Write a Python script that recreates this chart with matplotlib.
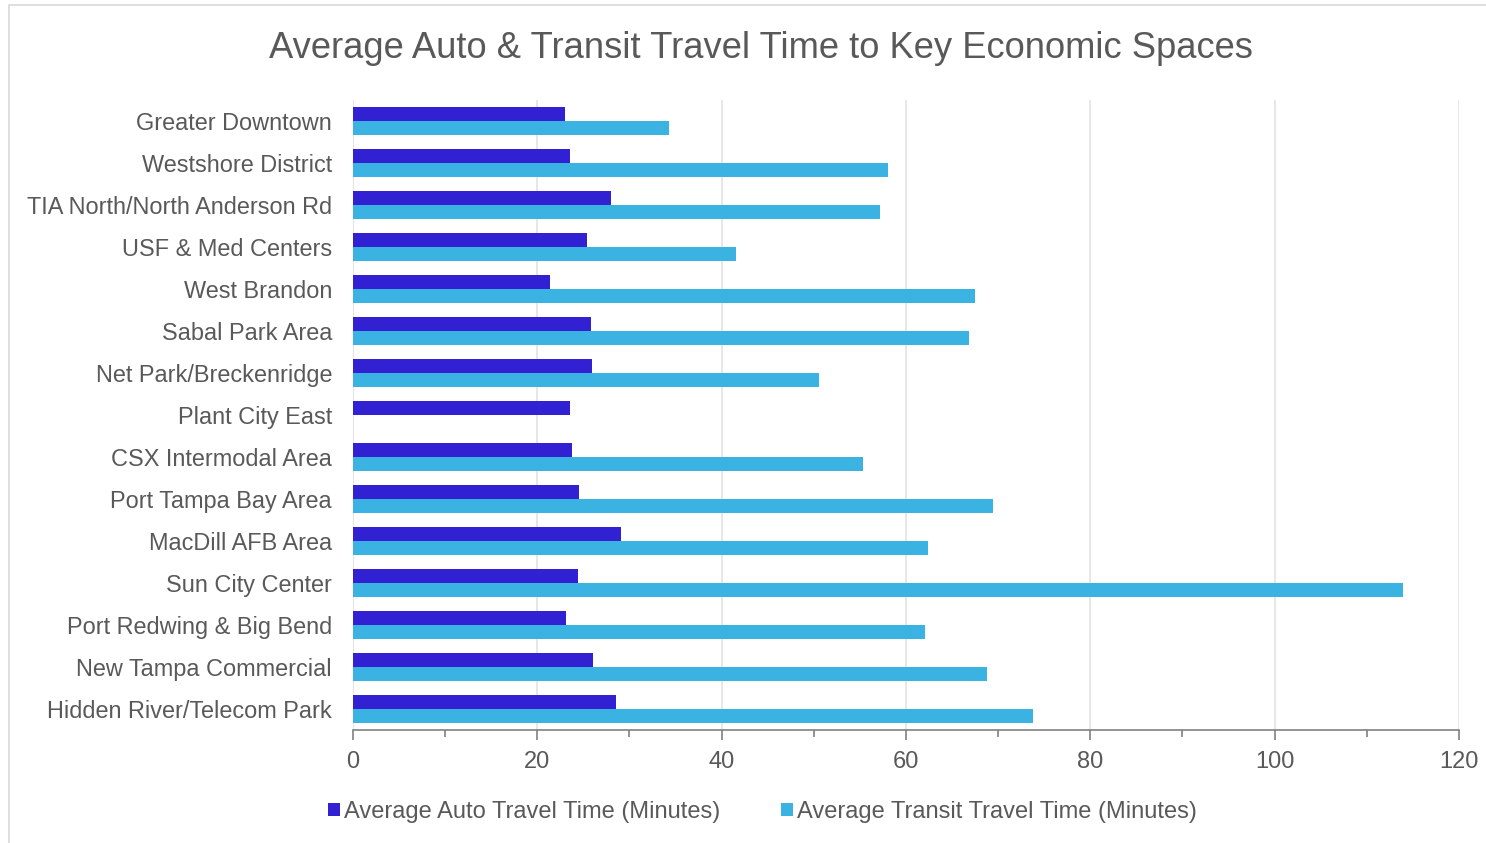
import matplotlib
matplotlib.use("Agg")
import matplotlib.pyplot as plt
from matplotlib.patches import Rectangle
from matplotlib.ticker import MultipleLocator
import numpy as np

plt.rcParams['font.family'] = ['Liberation Sans', 'DejaVu Sans']

places = ["Greater Downtown", "Westshore District", "TIA North/North Anderson Rd",
          "USF & Med Centers", "West Brandon", "Sabal Park Area",
          "Net Park/Breckenridge", "Plant City East", "CSX Intermodal Area",
          "Port Tampa Bay Area", "MacDill AFB Area", "Sun City Center",
          "Port Redwing & Big Bend", "New Tampa Commercial", "Hidden River/Telecom Park"]
auto_time = [23.0, 23.6, 28.0, 25.4, 21.4, 25.8, 25.9, 23.5, 23.8, 24.5, 29.1, 24.4, 23.1, 26.0, 28.5]
transit_time = [34.3, 58.0, 57.2, 41.6, 67.5, 66.8, 50.6, 0.0, 55.3, 69.4, 62.4, 113.9, 62.1, 68.8, 73.8]

auto_colour = "#3121d3"
transit_colour = "#3bb3e2"
text_colour = "#595959"

fig = plt.figure(figsize=(14.86, 8.43), dpi=100)
ax = fig.add_axes([0.2375, 0.134, 0.7443, 0.747])

# light frame around the chart area
fig.patches.append(Rectangle((0.006, -0.01), 1.2, 1.0035, transform=fig.transFigure,
                             fill=False, edgecolor="#d9d9d9", linewidth=1.2))

y = np.arange(len(places))
h = 0.335
ax.barh(y - h / 2, auto_time, height=h, color=auto_colour,
        label="Average Auto Travel Time (Minutes)", zorder=3)
ax.barh(y + h / 2, transit_time, height=h, color=transit_colour,
        label="Average Transit Travel Time (Minutes)", zorder=3)

ax.set_ylim(len(places) - 0.5, -0.5)
ax.set_xlim(0, 120)
ax.set_yticks(y)
ax.set_yticklabels(places, fontsize=16.9, color=text_colour)
ax.tick_params(axis="y", length=0, pad=15)

ax.xaxis.set_major_locator(MultipleLocator(20))
ax.xaxis.set_minor_locator(MultipleLocator(10))
ax.tick_params(axis="x", which="major", length=7, width=1.2, color="#808080",
               labelsize=17, labelcolor=text_colour, pad=8)
ax.tick_params(axis="x", which="minor", length=5, width=1.2, color="#808080")
ax.grid(axis="x", which="major", color="#e3e3e3", linewidth=1.2, zorder=0)

for side in ["top", "right"]:
    ax.spines[side].set_visible(False)
ax.spines["left"].set_color("#e3e3e3")
ax.spines["bottom"].set_color("#808080")
ax.spines["bottom"].set_linewidth(1.2)

fig.text(0.512, 0.942, "Average Auto & Transit Travel Time to Key Economic Spaces",
         ha="center", va="center", fontsize=26.2, color=text_colour)

leg = fig.legend(loc="center", bbox_to_anchor=(0.513, 0.037), ncol=2, frameon=False,
                 fontsize=17, handlelength=0.5, handleheight=0.5, handletextpad=0.15,
                 columnspacing=2.6, labelcolor=text_colour)

fig.savefig("out.png", dpi=100)
